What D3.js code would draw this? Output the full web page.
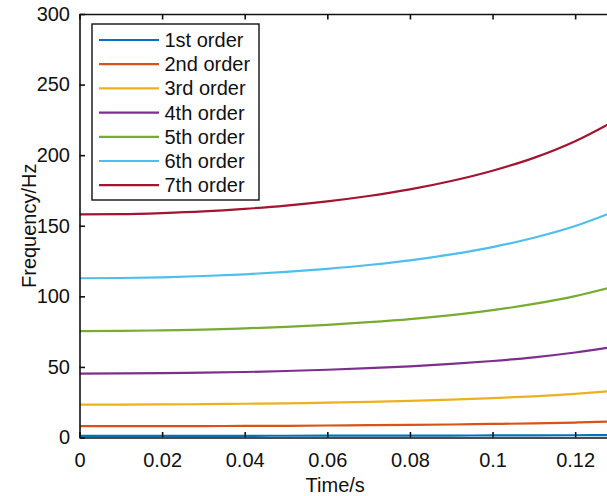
<!DOCTYPE html>
<html>
<head>
<meta charset="utf-8">
<script src="https://cdn.jsdelivr.net/npm/d3@7/dist/d3.min.js"></script>
<style>
  html, body { margin: 0; padding: 0; background: #fff; }
  svg { display: block; font-family: "Liberation Sans", Arial, Helvetica, sans-serif; }
</style>
</head>
<body>
<svg id="chart" width="607" height="496"></svg>
<script>
// Sample times (s)
const times = [0, 0.01, 0.02, 0.03, 0.04, 0.05, 0.06, 0.07, 0.08, 0.09, 0.10, 0.11, 0.12, 0.128];

// Natural frequency of each order (Hz) at the sample times
const order1 = [1.2, 1.2, 1.2, 1.2, 1.2, 1.25, 1.27, 1.3, 1.34, 1.38, 1.44, 1.5, 1.59, 1.69];
const order2 = [8.0, 8.0, 8.0, 8.1, 8.2, 8.3, 8.5, 8.7, 8.9, 9.2, 9.6, 10.0, 10.6, 11.2];
const order3 = [23.3, 23.3, 23.4, 23.6, 23.9, 24.2, 24.7, 25.2, 25.9, 26.8, 27.9, 29.2, 30.9, 32.7];
const order4 = [45.3, 45.4, 45.6, 45.9, 46.4, 47.1, 48.0, 49.1, 50.4, 52.1, 54.2, 56.8, 60.2, 63.6];
const order5 = [75.4, 75.5, 75.9, 76.4, 77.3, 78.4, 79.8, 81.7, 83.9, 86.7, 90.2, 94.6, 100.2, 105.9];
const order6 = [112.8, 113.0, 113.5, 114.4, 115.6, 117.3, 119.5, 122.2, 125.5, 129.7, 134.9, 141.5, 149.8, 158.4];
const order7 = [158.0, 158.2, 159.0, 160.2, 162.0, 164.3, 167.3, 171.1, 175.8, 181.7, 189.0, 198.1, 209.9, 221.9];

const seriesNames = ["1st order", "2nd order", "3rd order", "4th order", "5th order", "6th order", "7th order"];
const seriesValues = [order1, order2, order3, order4, order5, order6, order7];
const seriesColors = ["#0072BD", "#D95319", "#EDB120", "#7E2F8E", "#77AC30", "#4DBEEE", "#A2142F"];

const xTicks = [0, 0.02, 0.04, 0.06, 0.08, 0.1, 0.12];
const yTicks = [0, 50, 100, 150, 200, 250, 300];

const xLabel = "Time/s";
const yLabel = "Frequency/Hz";

// Layout
const plot = { left: 79.5, top: 14, right: 608.2, bottom: 437.5 };
const fontSize = 20;
const tickLen = 5.5;
const ink = "#111";

const svg = d3.select("#chart");

const x = d3.scaleLinear().domain([0, 0.128]).range([plot.left, plot.right]);
const y = d3.scaleLinear().domain([0, 300]).range([plot.bottom, plot.top]);

// Clip curves to the axes box
svg.append("defs").append("clipPath").attr("id", "plotClip")
  .append("rect")
  .attr("x", plot.left).attr("y", plot.top)
  .attr("width", plot.right - plot.left).attr("height", plot.bottom - plot.top);

// Curves
const line = d3.line()
  .x(d => x(d[0]))
  .y(d => y(d[1]))
  .curve(d3.curveMonotoneX);

const curves = svg.append("g").attr("clip-path", "url(#plotClip)");
seriesValues.forEach((vals, i) => {
  curves.append("path")
    .datum(times.map((t, k) => [t, vals[k]]))
    .attr("d", line)
    .attr("fill", "none")
    .attr("stroke", seriesColors[i])
    .attr("stroke-width", 2.2)
    .attr("stroke-linejoin", "round");
});

// Axes (ticks point inward, box on all sides)
const fmtX = d => d === 0 ? "0" : String(+d.toFixed(2));

const bottomAxis = d3.axisBottom(x).tickValues(xTicks).tickSizeInner(-tickLen).tickSizeOuter(0)
  .tickPadding(tickLen + 10).tickFormat(fmtX);
const topAxis = d3.axisTop(x).tickValues(xTicks).tickSizeInner(-tickLen).tickSizeOuter(0)
  .tickFormat("");
const leftAxis = d3.axisLeft(y).tickValues(yTicks).tickSizeInner(-tickLen).tickSizeOuter(0)
  .tickPadding(tickLen + 4).tickFormat(d3.format("d"));

function styleAxis(g) {
  g.select(".domain").attr("stroke", ink).attr("stroke-width", 1.6);
  g.selectAll(".tick line").attr("stroke", ink).attr("stroke-width", 1.6);
  g.selectAll(".tick text").attr("fill", ink).attr("font-size", fontSize)
    .attr("font-family", "Liberation Sans, Arial, sans-serif");
}

svg.append("g").attr("transform", `translate(0,${plot.bottom})`).call(bottomAxis).call(styleAxis);
svg.append("g").attr("transform", `translate(0,${plot.top})`).call(topAxis).call(styleAxis);
svg.append("g").attr("transform", `translate(${plot.left},0)`).call(leftAxis).call(styleAxis);

// Axis titles
svg.append("text")
  .attr("x", (plot.left + 607) / 2 - 8)
  .attr("y", 485)
  .attr("dy", "0.35em")
  .attr("text-anchor", "middle")
  .attr("font-size", fontSize)
  .attr("fill", ink)
  .text(xLabel);

svg.append("text")
  .attr("transform", `translate(29,${(plot.top + plot.bottom) / 2}) rotate(-90)`)
  .attr("text-anchor", "middle")
  .attr("dy", "0.35em")
  .attr("font-size", fontSize)
  .attr("fill", ink)
  .text(yLabel);

// Legend
const legend = { x: 92, y: 24, w: 167, h: 176, rowTop: 40, rowStep: 24.2 };
const lg = svg.append("g");
lg.append("rect")
  .attr("x", legend.x).attr("y", legend.y)
  .attr("width", legend.w).attr("height", legend.h)
  .attr("fill", "#fff").attr("stroke", ink).attr("stroke-width", 1.4);

seriesNames.forEach((name, i) => {
  const ry = legend.rowTop + i * legend.rowStep;
  lg.append("line")
    .attr("x1", 99).attr("x2", 159)
    .attr("y1", ry).attr("y2", ry)
    .attr("stroke", seriesColors[i]).attr("stroke-width", 2.2);
  lg.append("text")
    .attr("x", 164.5).attr("y", ry)
    .attr("dy", "0.35em")
    .attr("font-size", fontSize)
    .attr("fill", ink)
    .text(name);
});
</script>
</body>
</html>
